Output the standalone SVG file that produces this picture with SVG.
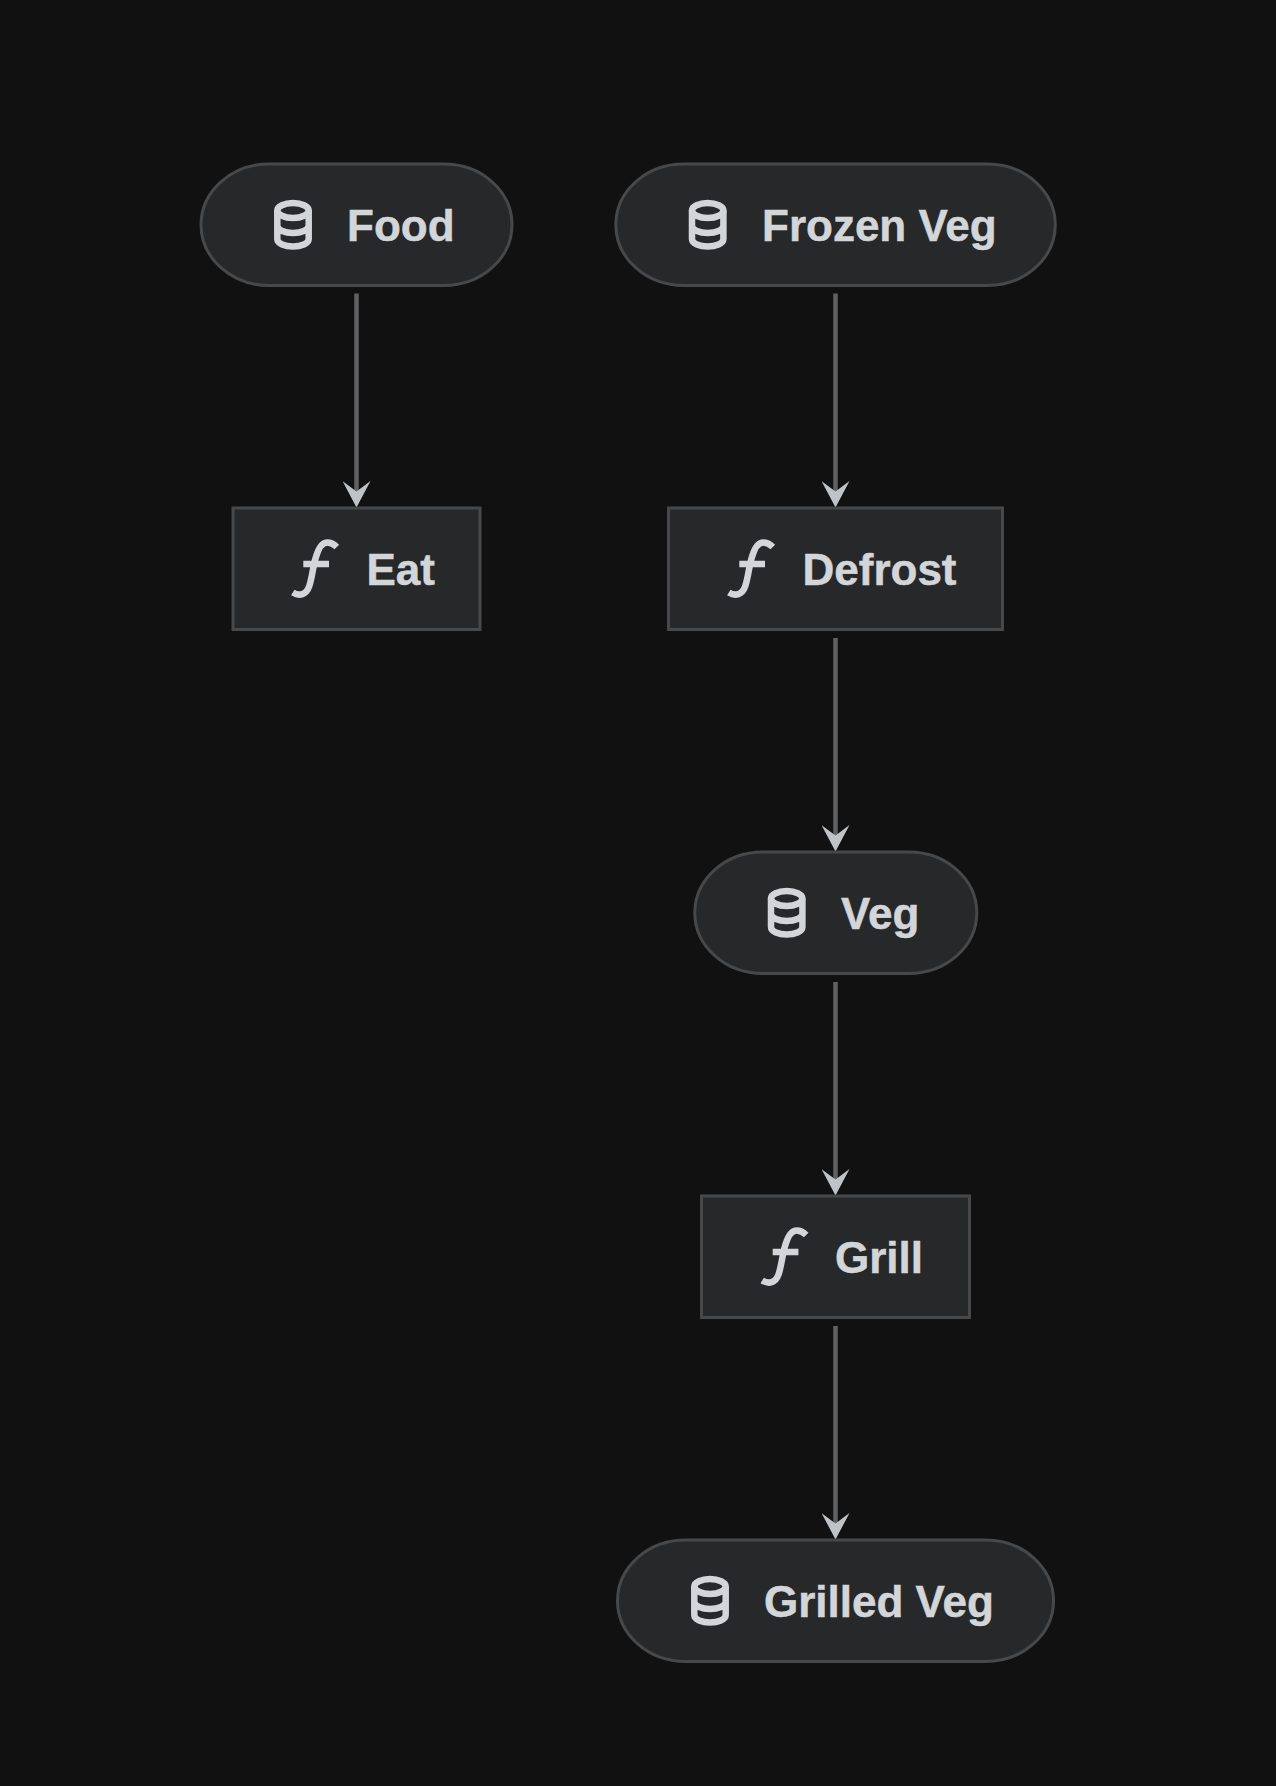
<svg xmlns="http://www.w3.org/2000/svg" width="1276" height="1786" viewBox="0 0 1276 1786">
<style>
.n{fill:#27282a;stroke:#47484a;stroke-width:3}
.t{font-family:"Liberation Sans",Arial,sans-serif;font-weight:700;font-size:44px;fill:#d3d6d9;stroke:#d3d6d9;stroke-width:.5}
.i{fill:none;stroke:#d3d6d9;stroke-width:6.500}
.e{fill:none;stroke:#606163;stroke-width:4.500;marker-end:url(#a)}
</style>
<defs>
<marker id="a" markerUnits="userSpaceOnUse" markerWidth="27" markerHeight="28" refX="16" refY="14" viewBox="0 0 27 28" orient="auto">
<path d="M0 0L26.500 14L0 28L10.500 14Z" fill="#bfc2c7"/>
</marker>
<g id="db"><ellipse cx="0" cy="10.500" rx="15.700" ry="7.500"/><path d="M-15.700 10.500V39C-15.700 43.500 -8 46.500 0 46.500S15.700 43.500 15.700 39V10.500M-15.700 25.500C-15.700 30 -8 33 0 33S15.700 30 15.700 25.500"/></g>
<g id="fn"><path d="M-10.500 28.500C-4 32.500 3 31 6 22C9 13 10 0 13 -8C16 -18 20 -21.500 24 -21.500C27.500 -21.500 31 -19.500 33.500 -17M0 0H25.700"/></g>
</defs>
<rect width="1276" height="1786" fill="#111111"/>
<g id="edges">
<path class="e" d="M356.500 293.500V497"/>
<path class="e" d="M835.500 293.500V497"/>
<path class="e" d="M835.500 638V841"/>
<path class="e" d="M835.500 982V1185"/>
<path class="e" d="M835.500 1326V1529"/>
</g>
<g id="food"><rect class="n" x="201" y="164" width="311" height="121.500" rx="68" ry="60.700"/><use href="#db" class="i" x="293" y="200"/><text class="t" x="347" y="240.500">Food</text></g>
<g id="frozen"><rect class="n" x="615.800" y="164" width="439.500" height="121.500" rx="68" ry="60.700"/><use href="#db" class="i" x="707.700" y="200"/><text class="t" x="762" y="240.500">Frozen Veg</text></g>
<g id="eat"><rect class="n" x="233" y="508" width="247" height="121.500"/><use href="#fn" class="i" x="303.300" y="564"/><text class="t" x="366.500" y="585">Eat</text></g>
<g id="defrost"><rect class="n" x="668.500" y="508" width="334" height="121.500"/><use href="#fn" class="i" x="739.300" y="564"/><text class="t" x="802.500" y="585">Defrost</text></g>
<g id="veg"><rect class="n" x="694.800" y="852" width="282" height="121.500" rx="68" ry="60.700"/><use href="#db" class="i" x="786.700" y="888"/><text class="t" x="841" y="929">Veg</text></g>
<g id="grill"><rect class="n" x="701.500" y="1196" width="268" height="121.500"/><use href="#fn" class="i" x="772.700" y="1252"/><text class="t" x="835" y="1273">Grill</text></g>
<g id="grilled"><rect class="n" x="617.500" y="1540" width="436" height="121.500" rx="68" ry="60.700"/><use href="#db" class="i" x="710" y="1576"/><text class="t" x="764" y="1617">Grilled Veg</text></g>
</svg>
